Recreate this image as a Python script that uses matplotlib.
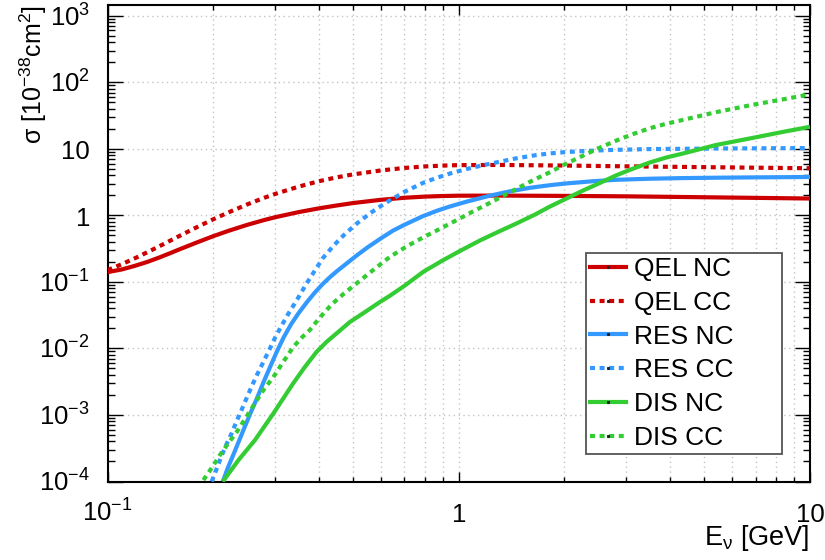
import matplotlib
matplotlib.use("Agg")
import matplotlib.pyplot as plt
import matplotlib.transforms as mtransforms
from matplotlib.lines import Line2D
from matplotlib.ticker import FixedLocator, LogLocator, NullFormatter

plt.rcParams["font.family"] = ["Liberation Sans", "DejaVu Sans"]

# Cross sections in units of 1e-38 cm^2 versus neutrino energy in GeV
qel_nc_e = [0.1, 0.11, 0.12, 0.13, 0.14, 0.15, 0.16, 0.18, 0.2, 0.22, 0.25, 0.28, 0.3, 0.35, 0.4, 0.45,
            0.5, 0.6, 0.7, 0.8, 0.9, 1.0, 1.3, 2.0, 3.0, 5.0, 7.0, 10.0]
qel_nc_s = [0.14, 0.154, 0.175, 0.20, 0.231, 0.267, 0.307, 0.393, 0.486, 0.58, 0.72, 0.853, 0.936, 1.118,
            1.274, 1.408, 1.529, 1.712, 1.836, 1.911, 1.952, 1.973, 1.98, 1.96, 1.93, 1.87, 1.83, 1.79]

qel_cc_e = [0.1, 0.11, 0.12, 0.13, 0.14, 0.15, 0.16, 0.18, 0.2, 0.22, 0.25, 0.28, 0.3, 0.35, 0.4, 0.45,
            0.5, 0.6, 0.7, 0.8, 0.9, 1.0, 1.3, 2.0, 3.0, 5.0, 7.0, 10.0]
qel_cc_s = [0.15, 0.185, 0.228, 0.28, 0.34, 0.41, 0.488, 0.667, 0.872, 1.096, 1.461, 1.844, 2.095, 2.70, 3.26,
            3.73, 4.12, 4.73, 5.15, 5.43, 5.59, 5.68, 5.72, 5.6, 5.45, 5.3, 5.2, 5.1]

res_nc_e = [0.213, 0.22, 0.228, 0.236, 0.244, 0.255, 0.266, 0.278, 0.29, 0.303, 0.317, 0.333, 0.35, 0.37,
            0.39, 0.41, 0.43, 0.45, 0.48, 0.51, 0.55, 0.6, 0.65, 0.7, 0.79, 0.87, 0.94, 1.05, 1.225, 1.4,
            1.6, 1.8, 2.0, 2.4, 2.8, 3.5, 4.35, 5.5, 7.0, 10.0]
res_nc_s = [1.0e-4, 1.6e-4, 2.5e-4, 3.9e-4, 6.0e-4, 1.05e-3, 1.75e-3, 3.1e-3, 5.2e-3, 8.8e-3, 0.0145, 0.023,
            0.034, 0.05, 0.07, 0.093, 0.118, 0.145, 0.19, 0.245, 0.33, 0.45, 0.59, 0.72, 0.97, 1.18, 1.35,
            1.6, 1.97, 2.3, 2.6, 2.82, 3.0, 3.25, 3.42, 3.55, 3.63, 3.68, 3.72, 3.77]

res_cc_e = [0.198, 0.205, 0.211, 0.218, 0.226, 0.233, 0.241, 0.249, 0.257, 0.267, 0.278, 0.289, 0.30, 0.313,
            0.327, 0.345, 0.369, 0.39, 0.411, 0.44, 0.47, 0.512, 0.56, 0.6, 0.637, 0.7, 0.794, 0.87, 0.944,
            1.05, 1.17, 1.3, 1.46, 1.65, 1.81, 2.0, 2.27, 2.7, 3.49, 5.5, 10.0]
res_cc_s = [1.0e-4, 1.6e-4, 2.4e-4, 3.6e-4, 5.4e-4, 8.0e-4, 1.2e-3, 1.8e-3, 2.65e-3, 4.1e-3, 6.3e-3, 9.6e-3,
            0.0145, 0.022, 0.033, 0.052, 0.095, 0.15, 0.23, 0.35, 0.5, 0.75, 1.08, 1.38, 1.68, 2.25, 3.1, 3.7,
            4.25, 4.95, 5.65, 6.35, 7.2, 8.0, 8.5, 8.9, 9.25, 9.6, 9.9, 10.1, 10.25]

dis_nc_e = [0.213, 0.236, 0.263, 0.2965, 0.338, 0.365, 0.394, 0.42, 0.45, 0.49, 0.54, 0.597, 0.637, 0.7,
            0.793, 0.9, 1.0, 1.15, 1.3, 1.46, 1.65, 1.81, 2.0, 2.27, 2.5, 2.81, 3.1, 3.49, 3.9, 4.35, 5.4,
            6.74, 8.4, 10.0]
dis_nc_s = [1.0e-4, 2.1e-4, 4.2e-4, 1.05e-3, 3.0e-3, 5.3e-3, 8.9e-3, 0.0125, 0.017, 0.025, 0.035, 0.05, 0.062,
            0.087, 0.142, 0.21, 0.285, 0.42, 0.57, 0.755, 1.03, 1.34, 1.73, 2.39, 3.0, 4.0, 4.92, 6.2, 7.4,
            8.5, 11.4, 14.3, 18.0, 21.4]

dis_cc_e = [0.1875, 0.198, 0.209, 0.221, 0.233, 0.249, 0.266, 0.28, 0.2965, 0.316, 0.338, 0.357, 0.377, 0.402,
            0.435, 0.47, 0.512, 0.57, 0.637, 0.71, 0.794, 0.87, 0.944, 1.0, 1.1, 1.23, 1.33, 1.46, 1.62, 1.81,
            2.0, 2.27, 2.5, 2.81, 3.1, 3.49, 3.9, 4.35, 5.4, 6.74, 8.4, 10.0]
dis_cc_s = [1.05e-4, 1.6e-4, 2.5e-4, 3.8e-4, 5.5e-4, 9.5e-4, 1.66e-3, 2.5e-3, 3.7e-3, 6.2e-3, 0.0105, 0.0145,
            0.019, 0.029, 0.046, 0.066, 0.095, 0.15, 0.238, 0.34, 0.47, 0.6, 0.75, 0.88, 1.15, 1.55, 1.93,
            2.5, 3.33, 4.4, 5.8, 8.0, 10.2, 13.3, 16.3, 20.3, 23.8, 27.2, 35.5, 45.0, 55.5, 65.8]

series_labels = ["QEL NC", "QEL CC", "RES NC", "RES CC", "DIS NC", "DIS CC"]

x_tick_values = [0.1, 1.0, 10.0]
x_tick_labels = [r"$\mathregular{10^{-1}}$", "1", "10"]
y_tick_values = [1e-4, 1e-3, 1e-2, 1e-1, 1.0, 10.0, 1e2, 1e3]
y_tick_labels = [r"$\mathregular{10^{-4}}$", r"$\mathregular{10^{-3}}$", r"$\mathregular{10^{-2}}$",
                 r"$\mathregular{10^{-1}}$", "1", "10", r"$\mathregular{10^{2}}$", r"$\mathregular{10^{3}}$"]

RED = "#cc0000"
BLUE = "#3399ff"
GREEN = "#33cc33"
LW = 3.0
DOTTED = (0, (1.2, 1.1))

W, H = 825, 560
fig = plt.figure(figsize=(W / 100, H / 100), dpi=100)
left, right, top, bottom = 107.5, 810.0, 5.0, 481.5
ax = fig.add_axes([left / W, 1 - bottom / H, (right - left) / W, (bottom - top) / H])
ax.set_xscale("log")
ax.set_yscale("log")
ax.set_xlim(0.1, 10.0)
ax.set_ylim(1e-4, 10 ** 3.161)

styles = [
    (qel_nc_e, qel_nc_s, RED, "-"),
    (qel_cc_e, qel_cc_s, RED, DOTTED),
    (res_nc_e, res_nc_s, BLUE, "-"),
    (res_cc_e, res_cc_s, BLUE, DOTTED),
    (dis_nc_e, dis_nc_s, GREEN, "-"),
    (dis_cc_e, dis_cc_s, GREEN, DOTTED),
]
handles = []
for (e, s, c, ls), lab in zip(styles, series_labels):
    ax.plot(e, s, color=c, ls=ls, lw=LW, solid_capstyle="butt", dash_capstyle="butt",
            solid_joinstyle="round", zorder=3)
    handles.append(Line2D([], [], color=c, ls=ls, lw=LW, dash_capstyle="butt",
                          marker="s", ms=1.2, mfc="#222222", mec="#222222", label=lab))

# Axis ticks, pointing inward on all four sides
ax.xaxis.set_major_locator(FixedLocator(x_tick_values))
ax.xaxis.set_minor_locator(LogLocator(base=10, subs=[2, 3, 4, 5, 6, 7, 8, 9]))
ax.yaxis.set_major_locator(FixedLocator(y_tick_values))
ax.yaxis.set_minor_locator(LogLocator(base=10, subs=[2, 3, 4, 5, 6, 7, 8, 9], numticks=20))
ax.xaxis.set_minor_formatter(NullFormatter())
ax.yaxis.set_minor_formatter(NullFormatter())
ax.tick_params(which="both", direction="in", top=True, right=True,
               labelbottom=False, labelleft=False, color="black", width=1.0)
ax.tick_params(axis="x", which="major", length=7.5)
ax.tick_params(axis="x", which="minor", length=3.8)
ax.tick_params(axis="y", which="major", length=10.5)
ax.tick_params(axis="y", which="minor", length=5.0)

for sp in ax.spines.values():
    sp.set_linewidth(1.5)
    sp.set_color("black")

grid_kw = dict(color="#c4c4c4", linestyle=(0, (1, 2.5)), linewidth=1.0)
ax.grid(True, which="major", axis="both", **grid_kw)
ax.grid(True, which="minor", axis="x", **grid_kw)
ax.set_axisbelow(True)

def px_offset(dx, dy):
    return mtransforms.ScaledTranslation(dx / 100, dy / 100, fig.dpi_scale_trans)

TICK_FS = 18.5
xt = ax.get_xaxis_transform() + px_offset(0, -40.5)
for v, lab in zip(x_tick_values, x_tick_labels):
    ax.text(v, 0, lab, transform=xt, ha="center", va="baseline", fontsize=TICK_FS, clip_on=False)
yt = ax.get_yaxis_transform() + px_offset(-17.5, -10.5)
for v, lab in zip(y_tick_values, y_tick_labels):
    ax.text(0, v, lab, transform=yt, ha="right", va="baseline", fontsize=TICK_FS, clip_on=False)

fig.text(809 / W, 1 - 545 / H, r"E$_{\mathregular{\nu}}$ [GeV]", ha="right", va="baseline", fontsize=19.5)
fig.text(42 / W, 1 - 5 / H, r"σ [$\mathregular{10^{-38}}$cm$\mathregular{^{2}}$]", rotation=90,
         rotation_mode="anchor", ha="right", va="baseline", fontsize=18)

leg = ax.legend(handles=handles, loc="upper left", mode="expand",
                bbox_to_anchor=(586 / W, 1 - 453 / H, 196 / W, 200 / H), bbox_transform=fig.transFigure,
                borderaxespad=0, fontsize=19, numpoints=1, handlelength=1.35, handletextpad=0.3,
                borderpad=0.155, labelspacing=0.37, fancybox=False, framealpha=1.0,
                edgecolor="#555555")
leg.get_frame().set_linewidth(1.3)
leg.set_zorder(5)

fig.savefig("out.png", dpi=100, facecolor="white")
